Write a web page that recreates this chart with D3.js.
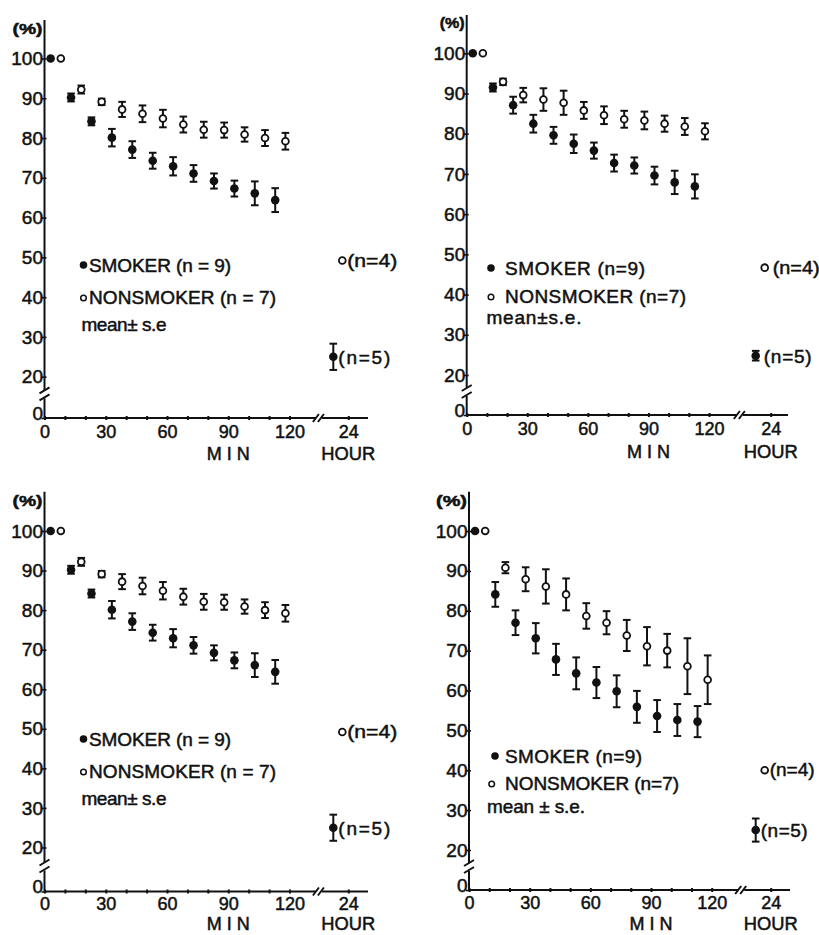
<!DOCTYPE html>
<html lang="en">
<head>
<meta charset="utf-8">
<title>Smoker / nonsmoker</title>
<style>
  body { margin: 0; background: #fff; }
  svg { display: block; }
  text { font-family: "Liberation Sans", Arial, sans-serif; fill: #111; stroke: #111; stroke-width: 0.5px; }
</style>
</head>
<body>
<div id="chart"></div>
<script src="https://cdnjs.cloudflare.com/ajax/libs/d3/7.8.5/d3.min.js"></script>
<script>

  // sampling times (min); the two groups are drawn a few minutes apart
  const smokerMin = [3, 13, 23, 33, 43, 53, 63, 73, 83, 93, 103, 113]
  const nonsmokerMin = [8, 18, 28, 38, 48, 58, 68, 78, 88, 98, 108, 118]
  const minTicks = [0, 10, 20, 30, 40, 50, 60, 70, 80, 90, 100, 110, 120]
  const minLabels = [0, 30, 60, 90, 120]
  const hourTicks = [24]
  const yTicks = [0, 20, 30, 40, 50, 60, 70, 80, 90, 100]

  // panel A (top left, same figure repeated bottom left)
  const smokerA = [100, 90.2, 84.2, 80.1, 77.1, 74.3, 72.9, 71.1, 69.2, 67.3, 66.1, 64.4]
  const smokerSeA = [0, 1, 1, 2.2, 2.1, 2, 2.3, 2.1, 1.9, 2, 3, 3]
  const nonsmokerA = [100, 92.2, 89.1, 87.2, 86.1, 84.9, 83.4, 82.1, 82.0, 80.9, 80.0, 79.2]
  const nonsmokerSeA = [0, 1, 0.8, 1.9, 2.1, 2.2, 2, 2, 1.9, 1.8, 2, 2.1]
  const smoker24A = [25, 3.3]   // mean, se
  const nonsmoker24A = 49.2
  const legendA = ['SMOKER (n = 9)', 'NONSMOKER (n = 7)', 'mean\u00b1 s.e']

  // panel B (top right)
  const smokerB = [100, 91.5, 87.1, 82.5, 79.6, 77.5, 75.8, 72.7, 72.1, 69.6, 67.9, 66.9]
  const smokerSeB = [0, 1, 2.1, 2.2, 2.1, 2.3, 2, 2.1, 2, 2.2, 2.9, 3]
  const nonsmokerB = [100, 92.9, 89.6, 88.5, 87.7, 85.8, 84.6, 83.6, 83.3, 82.5, 81.8, 80.6]
  const nonsmokerSeB = [0, 0.8, 1.8, 2.8, 3, 2.1, 2.2, 2.1, 2.2, 2, 2.1, 2]
  const smoker24B = [24.8, 1.2]
  const nonsmoker24B = 46.7
  const legendB = ['SMOKER (n=9)', 'NONSMOKER (n=7)', 'mean\u00b1s.e.']

  // panel C (bottom right)
  const smokerC = [100, 84.1, 77, 73.1, 67.8, 64.3, 62, 59.8, 55.9, 53.6, 52.6, 52.2]
  const smokerSeC = [0, 3.1, 3.1, 3.8, 3.9, 4, 3.9, 4, 4, 4, 4, 3.9]
  const nonsmokerC = [100, 90.8, 87.9, 86.1, 84.1, 78.7, 77, 73.8, 71.1, 70, 66.1, 62.7]
  const nonsmokerSeC = [0, 1.4, 3, 4.3, 4, 3.2, 2.9, 3.9, 4.8, 4.2, 7, 6.1]
  const smoker24C = [25, 2.9]
  const nonsmoker24C = 40
  const legendC = ['SMOKER (n=9)', 'NONSMOKER (n=7)', 'mean \u00b1 s.e.']

  const dataA = { s: smokerA, sSe: smokerSeA, n: nonsmokerA, nSe: nonsmokerSeA, s24: smoker24A, n24: nonsmoker24A, legend: legendA }
  const dataB = { s: smokerB, sSe: smokerSeB, n: nonsmokerB, nSe: nonsmokerSeB, s24: smoker24B, n24: nonsmoker24B, legend: legendB }
  const dataC = { s: smokerC, sSe: smokerSeC, n: nonsmokerC, nSe: nonsmokerSeC, s24: smoker24C, n24: nonsmoker24C, legend: legendC }

  // layout of the four panels (pixels)
  const panels = [
    { data: dataA, x0: 44.5, x120: 289.5, x24: 348.3, xEnd: 368, y100: 58.5, y20: 376.7, y0: 418, top: 20, tickDy: 20, unitDy: 42,
      pctW: 30, leg: { dotX: 83.5, circX: 83.5, textX: 89, meanX: 81.5, rows: [272, 304, 331], widths: [142, 187, 85] },
      note: { dx: 5, w4: 50, w5: 52 } },
    { data: dataB, x0: 466.7, x120: 709, x24: 770.7, xEnd: 788, y100: 53.3, y20: 375, y0: 415, top: 15, tickDy: 20, unitDy: 43,
      pctW: 25, leg: { dotX: 491, circX: 491, textX: 505, meanX: 486.5, rows: [275, 303, 324], widths: [140, 181, 95] },
      note: { dx: 8, w4: 47, w5: 48 } },
    { data: dataA, x0: 44.5, x120: 289.5, x24: 348.3, xEnd: 368, y100: 531, y20: 847.5, y0: 891.5, top: 491.7, tickDy: 18, unitDy: 38.5,
      pctW: 30, leg: { dotX: 83.5, circX: 83.5, textX: 89, meanX: 81.5, rows: [746, 778, 805], widths: [142, 187, 85] },
      note: { dx: 5, w4: 50, w5: 52 } },
    { data: dataC, x0: 469, x120: 711.7, x24: 770.7, xEnd: 790, y100: 531, y20: 850, y0: 890, top: 491.7, tickDy: 19, unitDy: 39.5,
      pctW: 31, leg: { dotX: 495, circX: 491.7, textX: 505, meanX: 487, rows: [763, 790, 813], widths: [137, 174, 98] },
      note: { dx: 5, w4: 45, w5: 47 } }
  ]

  const ink = '#111'
  const fontSize = 19
  const xFontSize = 18
  const smokerDx24 = -15
  const nonsmokerDx24 = -6

  const svg = d3.select('#chart')
    .append('svg')
    .attr('width', 819)
    .attr('height', 935)
    .style('background-color', '#fff')

  panels.forEach(p => drawPanel(p))

  function drawPanel(p) {
    const d = p.data
    const x = d3.scaleLinear().domain([0, 120, 24 * 60]).range([p.x0, p.x120, p.x24])
    const y = d3.scaleLinear().domain([0, 20, 100]).range([p.y0, p.y20, p.y100])
    const g = svg.append('g').style('color', ink)

    // axis lines, both with a break
    const bx = (p.x120 + p.x24) / 2
    const by = (p.y20 + p.y0) / 2 - 3
    const segs = [
      [p.x0, p.top, p.x0, by - 4],
      [p.x0, by + 4, p.x0, p.y0],
      [p.x0 - 5, by - 1, p.x0 + 5, by - 7],
      [p.x0 - 5, by + 6, p.x0 + 5, by],
      [p.x0, p.y0, bx - 3, p.y0],
      [bx + 3, p.y0, p.xEnd, p.y0],
      [bx - 6, p.y0 + 4, bx, p.y0 - 4],
      [bx - 1, p.y0 + 4, bx + 5, p.y0 - 4]
    ]
    g.selectAll('.axis-seg')
      .data(segs)
      .enter()
      .append('line')
      .attr('class', 'axis-seg')
      .attr('x1', s => s[0]).attr('y1', s => s[1])
      .attr('x2', s => s[2]).attr('y2', s => s[3])
      .attr('stroke', ink)
      .attr('stroke-width', 2)

    // y axis ticks + labels
    const yAxis = g.append('g')
      .attr('transform', `translate(${p.x0},0)`)
      .call(d3.axisLeft(y).tickValues(yTicks).tickSize(3).tickPadding(1))
      .attr('font-family', null)
      .attr('font-size', null)
    yAxis.select('.domain').remove()
    yAxis.selectAll('.tick line').attr('x1', 2).attr('stroke-width', 1.6)
    yAxis.selectAll('.tick text')
      .attr('x', -1.5)
      .attr('y', v => v === 0 ? -5 : 0)
      .style('font-size', `${fontSize}px`)

    // x axis ticks + labels (minutes, then the 24 hour mark)
    const xAxis = g.append('g')
      .attr('transform', `translate(0,${p.y0})`)
      .call(d3.axisBottom(x)
        .tickValues(minTicks.concat(hourTicks.map(h => h * 60)))
        .tickSize(2)
        .tickFormat(v => v >= 24 * 60 ? v / 60 : (minLabels.includes(v) ? v : '')))
      .attr('font-family', null)
      .attr('font-size', null)
    xAxis.select('.domain').remove()
    xAxis.selectAll('.tick line').attr('y1', -2).attr('y2', 2).attr('stroke-width', 2)
    xAxis.selectAll('.tick text')
      .attr('y', p.tickDy)
      .attr('dy', null)
      .style('font-size', `${xFontSize}px`)

    g.append('text')
      .attr('x', x(90)).attr('y', p.y0 + p.unitDy)
      .attr('text-anchor', 'middle')
      .attr('textLength', 43).attr('lengthAdjust', 'spacing')
      .style('font-size', `${xFontSize}px`)
      .text('MIN')
    g.append('text')
      .attr('x', p.x24).attr('y', p.y0 + p.unitDy)
      .attr('text-anchor', 'middle')
      .attr('textLength', 54).attr('lengthAdjust', 'spacingAndGlyphs')
      .style('font-size', `${xFontSize}px`)
      .text('HOUR')
    g.append('text')
      .attr('x', p.x0 - 2).attr('y', p.y100 - 25)
      .attr('text-anchor', 'end')
      .attr('textLength', p.pctW).attr('lengthAdjust', 'spacingAndGlyphs')
      .style('font-size', '15px')
      .style('font-weight', 'bold')
      .text('(%)')

    // series rows
    const smokerRows = smokerMin.map((t, i) => ({ px: x(t), v: d.s[i], se: d.sSe[i] }))
    const nonRows = nonsmokerMin.map((t, i) => ({ px: x(t), v: d.n[i], se: d.nSe[i] }))
    smokerRows.push({ px: x(24 * 60) + smokerDx24, v: d.s24[0], se: d.s24[1] })
    nonRows.push({ px: x(24 * 60) + nonsmokerDx24, v: d.n24, se: 0 })

    drawErrorBars(g, y, smokerRows.concat(nonRows).filter(r => r.se > 0))

    g.selectAll('.smoker')
      .data(smokerRows)
      .enter()
      .append('circle')
      .attr('class', 'smoker')
      .attr('cx', r => r.px)
      .attr('cy', r => y(r.v))
      .attr('r', 4.3)
      .attr('fill', ink)

    g.selectAll('.nonsmoker')
      .data(nonRows)
      .enter()
      .append('circle')
      .attr('class', 'nonsmoker')
      .attr('cx', r => r.px)
      .attr('cy', r => y(r.v))
      .attr('r', 3.4)
      .attr('fill', '#fff')
      .attr('stroke', ink)
      .attr('stroke-width', 1.8)

    // n labels at 24 hours
    const s24 = smokerRows[smokerRows.length - 1]
    const n24 = nonRows[nonRows.length - 1]
    g.append('text')
      .attr('x', s24.px + p.note.dx).attr('y', y(s24.v) + 7)
      .attr('textLength', p.note.w5).attr('lengthAdjust', 'spacing')
      .style('font-size', `${fontSize}px`)
      .text('(n=5)')
    g.append('text')
      .attr('x', n24.px + p.note.dx).attr('y', y(n24.v) + 6)
      .attr('textLength', p.note.w4).attr('lengthAdjust', 'spacingAndGlyphs')
      .style('font-size', `${fontSize}px`)
      .text('(n=4)')

    // legend
    const leg = p.leg
    g.append('circle')
      .attr('cx', leg.dotX).attr('cy', leg.rows[0] - 7)
      .attr('r', 3.8)
      .attr('fill', ink)
    g.append('circle')
      .attr('cx', leg.circX).attr('cy', leg.rows[1] - 6)
      .attr('r', 2.8)
      .attr('fill', '#fff')
      .attr('stroke', ink)
      .attr('stroke-width', 1.5)
    g.selectAll('.legend-text')
      .data(d.legend)
      .enter()
      .append('text')
      .attr('class', 'legend-text')
      .attr('x', (t, i) => i === 2 ? leg.meanX : leg.textX)
      .attr('y', (t, i) => leg.rows[i])
      .attr('textLength', (t, i) => leg.widths[i])
      .attr('lengthAdjust', 'spacing')
      .style('font-size', `${fontSize}px`)
      .text(t => t)
  }

  function drawErrorBars(g, y, rows) {
    const cap = 3.8
    const bars = g.selectAll('.err')
      .data(rows)
      .enter()
      .append('g')
      .attr('class', 'err')
      .attr('stroke', ink)
      .attr('stroke-width', 2)

    bars.append('line')
      .attr('x1', r => r.px).attr('x2', r => r.px)
      .attr('y1', r => y(r.v - r.se)).attr('y2', r => y(r.v + r.se))
    bars.append('line')
      .attr('x1', r => r.px - cap).attr('x2', r => r.px + cap)
      .attr('y1', r => y(r.v + r.se)).attr('y2', r => y(r.v + r.se))
    bars.append('line')
      .attr('x1', r => r.px - cap).attr('x2', r => r.px + cap)
      .attr('y1', r => y(r.v - r.se)).attr('y2', r => y(r.v - r.se))
  }

</script>
</body>
</html>
